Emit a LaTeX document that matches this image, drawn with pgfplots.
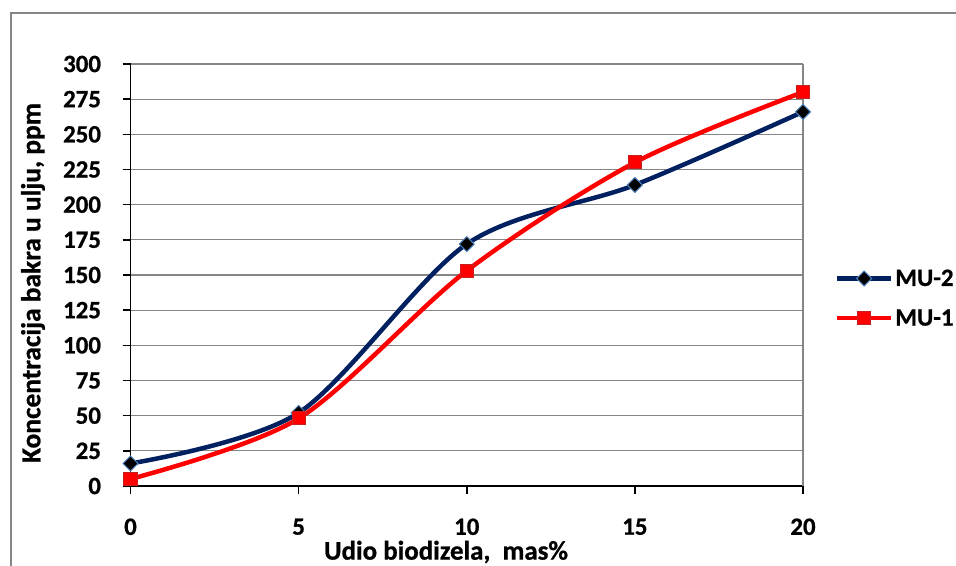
\documentclass[border=0pt]{standalone}
\usepackage{pgfplots}
\pgfplotsset{compat=1.18}
\usepackage{fontspec}
\setmainfont{Carlito}[BoldFeatures={FakeBold=0.8}]
\definecolor{navyline}{RGB}{0,32,96}
\definecolor{diamondedge}{RGB}{79,129,189}
\definecolor{redline}{RGB}{255,0,0}
\definecolor{squareedge}{RGB}{200,30,30}
\definecolor{gridgray}{RGB}{134,134,134}
\begin{document}
\begin{tikzpicture}
\path[use as bounding box] (0bp,0bp) rectangle (956bp,566bp);
% chart frame (only left and top edges fall inside the page)
\draw[gridgray,line width=1.5bp] (11bp,-20bp) -- (11bp,553bp) -- (980bp,553bp);
\begin{axis}[
  at={(130.5bp,80bp)}, anchor=south west,
  scale only axis, width=672.5bp, height=422bp,
  xmin=0, xmax=20, ymin=0, ymax=300,
  xtick={0,5,10,15,20},
  ytick={0,25,...,300},
  axis x line*=bottom, axis y line*=left,
  axis line style={black,line width=1.5bp,-},
  tick align=outside, major tick length=8bp,
  tick style={black,line width=1.5bp},
  ymajorgrids, grid style={gridgray,line width=1.2bp},
  /pgf/number format/assume math mode=true,
  ticklabel style={font=\fontsize{25}{30}\selectfont\bfseries},
  yticklabel style={xshift=-18bp},
  xticklabel style={yshift=-21bp},
  legend style={draw=none, fill=none, at={(1.047,0.518)}, anchor=north west,
    font=\fontsize{25}{30}\selectfont\bfseries, row sep=18bp,
    inner sep=0pt, legend cell align=left},
  legend image code/.code={%
    \draw[mark repeat=2,mark phase=2] plot coordinates {(0bp,0bp) (27bp,0bp) (54bp,0bp)};},
  clip=false,
]
% right edge of the plot area
\draw[gridgray,line width=1.2bp] (axis cs:20,0) -- (axis cs:20,300);
\addplot[navyline, line width=4.5bp, smooth, tension=0.5,
  mark=square*, mark size=5.3bp,
  mark options={rotate=45, fill=black, draw=diamondedge, line width=1bp}]
  coordinates {(0,16) (5,52) (10,172) (15,214) (20,266)};
\addlegendentry{MU-2}
\addplot[redline, line width=4.5bp, smooth, tension=0.5,
  mark=square*, mark size=6.5bp,
  mark options={fill=redline, draw=squareedge, line width=1bp}]
  coordinates {(0,5) (5,48) (10,153) (15,230) (20,280)};
\addlegendentry{MU-1}
\end{axis}
\node[font=\fontsize{27}{32}\selectfont\bfseries] at (446bp,14bp) {Udio biodizela,\ \ mas\%};
\node[font=\fontsize{27.5}{32}\selectfont\bfseries, rotate=90] at (33bp,283bp) {Koncentracija bakra u ulju, ppm};
\end{tikzpicture}
\end{document}
